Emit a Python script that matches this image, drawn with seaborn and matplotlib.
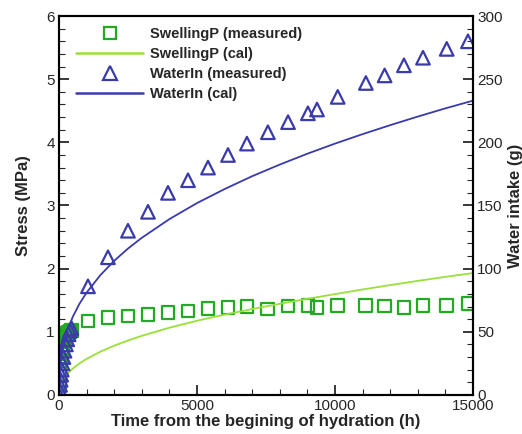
import matplotlib
matplotlib.use("Agg")
import matplotlib.pyplot as plt
import seaborn as sns
import pandas as pd
from matplotlib.ticker import MultipleLocator
from matplotlib.lines import Line2D

# ---- data ----
time_meas = [0, 20, 40, 60, 80, 100, 130, 160, 200, 250, 300, 350, 400, 450,
             1050, 1775, 2500, 3225, 3950, 4675, 5400, 6125, 6810,
             7570, 8300, 9020, 9350, 10100, 11120, 11800, 12500, 13190, 14050, 14820]
swelling_meas = [0.0, 0.2, 0.4, 0.55, 0.65, 0.72, 0.8, 0.85, 0.9, 0.94, 0.97, 0.99, 1.0, 1.02,
                 1.17, 1.22, 1.25, 1.28, 1.30, 1.33, 1.37, 1.39, 1.40,
                 1.36, 1.41, 1.42, 1.39, 1.42, 1.42, 1.41, 1.39, 1.42, 1.42, 1.45]
water_meas = [0, 4, 8, 12, 16, 20, 25, 30, 35, 40, 44, 48, 51, 53,
              86, 109, 130, 145, 160, 170, 180, 190, 199,
              208, 216, 223, 226, 236, 247, 253, 261, 267, 274, 280]

time_cal = [0, 5, 20, 50, 100, 200, 300, 500, 750, 1000, 1500, 2000, 2500, 3000,
            4000, 5000, 6000, 7000, 8000, 9000, 10000, 11000, 12000, 13000, 14000, 15000]
swelling_cal = [0.0, 0.053, 0.098, 0.148, 0.202, 0.277, 0.332, 0.418, 0.502, 0.571,
                0.685, 0.780, 0.862, 0.936, 1.065, 1.175, 1.272, 1.360, 1.443, 1.522,
                1.597, 1.670, 1.740, 1.806, 1.870, 1.93]
water_cal = [0, 10.3, 17.6, 25.2, 33.0, 43.3, 50.7, 61.9, 72.5, 81.0, 94.9, 106.2,
             115.9, 124.4, 139.2, 151.9, 163.0, 173.2, 182.4, 191.0, 199.0, 206.5,
             213.6, 220.4, 226.9, 233.0]

labels = ["SwellingP (measured)", "SwellingP (cal)", "WaterIn (measured)", "WaterIn (cal)"]

sq_color = "#22aa22"
cal_green = "#99e03a"
blue = "#3a3aaa"

meas = pd.DataFrame({"t": time_meas, "s": swelling_meas, "w": water_meas})
cal = pd.DataFrame({"t": time_cal, "s": swelling_cal, "w": water_cal})

sns.set_theme(style="white")
plt.rcParams["font.family"] = ["Liberation Sans", "DejaVu Sans"]

fig = plt.figure(figsize=(5.22, 4.34), dpi=100)
ax = fig.add_axes([0.113, 0.090, 0.793, 0.873])
ax2 = ax.twinx()

sns.lineplot(data=cal, x="t", y="s", ax=ax, color=cal_green, lw=1.3, legend=False)
sns.scatterplot(data=meas, x="t", y="s", ax=ax, marker="s", s=85, facecolors="none",
                edgecolor=sq_color, linewidth=1.6, legend=False)
sns.lineplot(data=cal, x="t", y="w", ax=ax2, color=blue, lw=1.3, legend=False)
sns.scatterplot(data=meas, x="t", y="w", ax=ax2, marker="^", s=95, facecolors="none",
                edgecolor=blue, linewidth=1.6, legend=False)

ax.set_xlim(0, 15000)
ax.set_ylim(0, 6)
ax2.set_ylim(0, 300)

ax.xaxis.set_major_locator(MultipleLocator(5000))
ax.xaxis.set_minor_locator(MultipleLocator(1000))
ax.yaxis.set_major_locator(MultipleLocator(1))
ax.yaxis.set_minor_locator(MultipleLocator(0.2))
ax2.yaxis.set_major_locator(MultipleLocator(50))
ax2.yaxis.set_minor_locator(MultipleLocator(10))

for a in (ax, ax2):
    for sp in a.spines.values():
        sp.set_linewidth(1.5)
        sp.set_color("black")
    a.tick_params(which="major", direction="in", length=7, width=1.3, labelsize=11, pad=3)
    a.tick_params(which="minor", direction="in", length=4, width=0.8)
ax.tick_params(axis="x", which="both", top=False, bottom=True)
ax.tick_params(axis="y", which="both", left=True, right=False)
ax2.tick_params(axis="y", which="both", left=False, right=True)
ax.grid(False)
ax2.grid(False)

ax.set_xlabel("Time from the begining of hydration (h)", fontsize=12, fontweight="bold", labelpad=1)
ax.set_ylabel("Stress (MPa)", fontsize=12, fontweight="bold", labelpad=11)
ax2.set_ylabel("Water intake (g)", fontsize=12, fontweight="bold", labelpad=4)

handles = [
    Line2D([], [], ls="none", marker="s", ms=9, mfc="none", mec=sq_color, mew=1.6),
    Line2D([], [], color=cal_green, lw=1.8),
    Line2D([], [], ls="none", marker="^", ms=10, mfc="none", mec=blue, mew=1.6),
    Line2D([], [], color=blue, lw=1.8),
]
leg = ax.legend(handles, labels, loc="upper left", bbox_to_anchor=(0.02, 0.995), frameon=False,
                handlelength=4.6, labelspacing=0.42, handletextpad=0.5, borderaxespad=0.2,
                prop={"weight": "bold", "size": 10.5})

fig.savefig("out.png", dpi=100)
